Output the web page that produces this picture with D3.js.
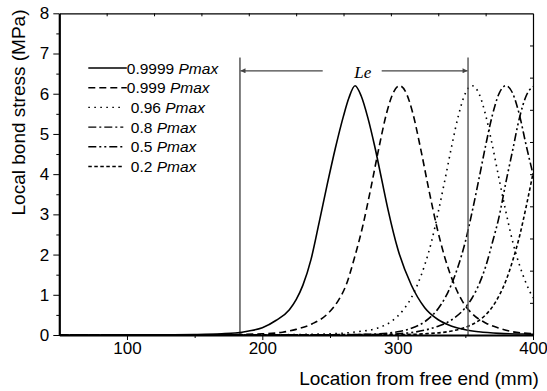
<!DOCTYPE html>
<html>
<head>
<meta charset="utf-8">
<script src="https://cdn.jsdelivr.net/npm/d3@7/dist/d3.min.js"></script>
<style>
  body { margin: 0; background: #fff; }
  svg { display: block; font-family: Arial, 'Liberation Sans', sans-serif; }
</style>
</head>
<body>
<div class="bond-chart"></div>
<script>
// tick labels
const xTicks = [100, 200, 300, 400];
const xMinor = [150, 250, 350];
const yTicks = [0, 1, 2, 3, 4, 5, 6, 7, 8];
const yMinor = [0.5, 1.5, 2.5, 3.5, 4.5, 5.5, 6.5, 7.5];

// series labels (fraction of Pmax)
const labels = ['0.9999', '0.999', '0.96', '0.8', '0.5', '0.2'];

// 0.9999 Pmax
const s1x = [50, 100, 130, 150, 170, 180, 190, 200, 210, 220, 225, 230, 236, 242, 248, 254, 260, 264, 268.5, 273, 278, 283, 288, 293, 300, 310, 320, 330, 340, 350, 360, 375, 390, 400];
const s1y = [0, 0.002, 0.006, 0.012, 0.03, 0.05, 0.1, 0.18, 0.36, 0.63, 0.88, 1.24, 1.88, 2.8, 3.75, 4.65, 5.45, 5.9, 6.2, 5.95, 5.4, 4.7, 3.9, 3.1, 2.15, 1.25, 0.68, 0.38, 0.22, 0.13, 0.08, 0.04, 0.025, 0.02];
// 0.999 Pmax
const s2x = [50, 150, 200, 215, 225, 237, 248, 256, 262, 268, 274, 280, 286, 292, 297, 301.5, 306, 311, 317, 323, 329, 335, 342, 348, 356, 365, 375, 385, 400];
const s2y = [0, 0.004, 0.03, 0.07, 0.14, 0.28, 0.52, 0.85, 1.25, 1.91, 2.68, 3.62, 4.63, 5.54, 6.04, 6.2, 6.04, 5.54, 4.63, 3.62, 2.68, 1.91, 1.24, 0.83, 0.5, 0.3, 0.17, 0.08, 0.035];
// 0.96 Pmax
const s3x = [50, 200, 250, 270, 285, 295, 305, 310, 315, 320, 325, 330, 335, 340, 345, 350, 355, 360, 365, 370, 375, 380, 385, 390, 395, 400];
const s3y = [0, 0.004, 0.03, 0.08, 0.17, 0.33, 0.66, 0.92, 1.28, 1.74, 2.32, 3.06, 3.87, 4.71, 5.47, 6.01, 6.2, 6.01, 5.47, 4.71, 3.87, 3.06, 2.32, 1.74, 1.28, 0.92];
// 0.8 Pmax
const s4x = [50, 250, 280, 300, 310, 320, 330, 335, 340, 345, 350, 355, 360, 365, 370, 375, 380, 385, 390, 395, 400];
const s4y = [0, 0.005, 0.02, 0.08, 0.165, 0.33, 0.66, 0.92, 1.28, 1.74, 2.32, 3.06, 3.87, 4.71, 5.47, 6.01, 6.2, 6.01, 5.47, 4.71, 4.0];
// 0.5 Pmax
const s5x = [50, 280, 300, 320, 330, 340, 350, 355, 360, 365, 370, 375, 380, 385, 390, 395, 400];
const s5y = [0, 0.01, 0.03, 0.12, 0.22, 0.38, 0.68, 0.92, 1.25, 1.7, 2.3, 2.95, 3.8, 4.6, 5.4, 5.95, 6.18];
// 0.2 Pmax
const s6x = [50, 300, 320, 340, 350, 360, 365, 370, 375, 380, 385, 390, 395, 400];
const s6y = [0, 0.01, 0.03, 0.1, 0.19, 0.36, 0.5, 0.7, 0.98, 1.35, 1.85, 2.45, 3.2, 4.02];

// Le annotation (mm, MPa)
const leBounds = [183.5, 352];
const leTop = 6.9;
const leArrow = 6.57;

const seriesX = [s1x, s2x, s3x, s4x, s5x, s6x];
const seriesY = [s1y, s2y, s3y, s4y, s5y, s6y];
const dashes = ['none', '7,4', '1.6,4.4', '8,3,2,3', '8,3,2,3,2,3', '3.5,2.5'];

const W = 547, H = 391;
const x = d3.scaleLinear().domain([50, 400]).range([59.3, 533]);
const y = d3.scaleLinear().domain([0, 8]).range([335, 13.3]);
// opposite axes carry their own 0-10 tick scale
const xTop = d3.scaleLinear().domain([0, 10]).range(x.range());
const yRight = d3.scaleLinear().domain([0, 10]).range(y.range());

const svg = d3.select('.bond-chart')
  .append('svg')
  .attr('width', W)
  .attr('height', H);

const data = seriesX.map((xs, i) => xs.map((v, j) => ({ x: v, y: seriesY[i][j] })));

const line = d3.line()
  .x(d => x(d.x))
  .y(d => y(d.y))
  .curve(d3.curveMonotoneX);

svg.append('g')
  .selectAll('path')
  .data(data)
  .enter()
  .append('path')
  .attr('fill', 'none')
  .attr('stroke', '#000')
  .attr('stroke-width', 1.6)
  .attr('stroke-dasharray', (d, i) => dashes[i])
  .attr('d', line);

// Le markers
svg.selectAll('.le-line')
  .data(leBounds)
  .enter()
  .append('line')
  .attr('class', 'le-line')
  .attr('x1', d => x(d))
  .attr('x2', d => x(d))
  .attr('y1', y(leTop))
  .attr('y2', y(0))
  .attr('stroke', (d, i) => (i ? '#555' : '#000'))
  .attr('stroke-width', (d, i) => (i ? 1.4 : 1));

const defs = svg.append('defs');
defs.append('marker')
  .attr('id', 'arr')
  .attr('viewBox', '0 0 10 10')
  .attr('refX', 10)
  .attr('refY', 5)
  .attr('markerWidth', 7)
  .attr('markerHeight', 5)
  .attr('markerUnits', 'userSpaceOnUse')
  .attr('orient', 'auto')
  .append('path')
  .attr('d', 'M0,0L10,5L0,10z')
  .attr('fill', '#444');

const leMid = 362.7;
svg.append('line')
  .attr('x1', leMid - 40)
  .attr('x2', x(leBounds[0]) + 0.5)
  .attr('y1', y(leArrow))
  .attr('y2', y(leArrow))
  .attr('stroke', '#444')
  .attr('stroke-width', 1.2)
  .attr('marker-end', 'url(#arr)');
svg.append('line')
  .attr('x1', leMid + 19)
  .attr('x2', x(leBounds[1]) - 0.5)
  .attr('y1', y(leArrow))
  .attr('y2', y(leArrow))
  .attr('stroke', '#444')
  .attr('stroke-width', 1.2)
  .attr('marker-end', 'url(#arr)');
svg.append('text')
  .attr('x', leMid)
  .attr('y', y(leArrow) + 7.5)
  .attr('text-anchor', 'middle')
  .attr('font-family', "'Liberation Serif', 'Times New Roman', serif")
  .attr('font-style', 'italic')
  .attr('font-size', 17)
  .text('Le');

// axes
const axisStyle = (g, w) => {
  g.select('.domain').attr('stroke', '#000').attr('stroke-width', w);
  g.selectAll('.tick line').attr('stroke', '#000').attr('stroke-width', 1);
  g.selectAll('text').attr('fill', '#000').attr('font-size', 17).attr('font-family', 'Arial, Liberation Sans, sans-serif');
};

svg.append('g')
  .attr('transform', `translate(0, ${y(0)})`)
  .call(d3.axisBottom(x).tickValues(xMinor).tickSize(3).tickSizeOuter(0).tickFormat(''))
  .call(g => g.select('.domain').remove())
  .call(g => g.selectAll('.tick line').attr('stroke', '#000'));
svg.append('g')
  .attr('transform', `translate(${x(50)}, 0)`)
  .call(d3.axisLeft(y).tickValues(yMinor).tickSize(3).tickSizeOuter(0).tickFormat(''))
  .call(g => g.select('.domain').remove())
  .call(g => g.selectAll('.tick line').attr('stroke', '#000'));

svg.append('g')
  .attr('transform', `translate(0, ${y(8)})`)
  .call(d3.axisBottom(xTop).tickValues(d3.range(1, 10)).tickSize(3).tickSizeOuter(0).tickFormat(''))
  .call(g => axisStyle(g, 1.2));
svg.append('g')
  .attr('transform', `translate(${x(400)}, 0)`)
  .call(d3.axisLeft(yRight).tickValues(d3.range(1, 10)).tickSize(3).tickSizeOuter(0).tickFormat(''))
  .call(g => axisStyle(g, 1.2));

svg.append('g')
  .attr('transform', `translate(0, ${y(0)})`)
  .call(d3.axisBottom(x).tickValues(xTicks).tickSize(5).tickPadding(2).tickSizeOuter(0))
  .call(g => axisStyle(g, 2.2));
svg.append('g')
  .attr('transform', `translate(${x(50)}, 0)`)
  .call(d3.axisLeft(y).tickValues(yTicks).tickSize(6).tickPadding(4).tickSizeOuter(0))
  .call(g => axisStyle(g, 2.2));

svg.append('text')
  .attr('x', 419)
  .attr('y', 385)
  .attr('text-anchor', 'middle')
  .attr('font-size', 19)
  .text('Location from free end (mm)');
svg.append('text')
  .attr('transform', 'translate(25, 112.5) rotate(-90)')
  .attr('text-anchor', 'middle')
  .attr('font-size', 19)
  .text('Local bond stress (MPa)');

// legend
const legend = svg.append('g')
  .selectAll('g')
  .data(labels)
  .enter()
  .append('g')
  .attr('transform', (d, i) => `translate(88.3, ${68 + i * 19.7})`);
legend.append('line')
  .attr('x1', 0)
  .attr('x2', (d, i) => (i < 2 ? 38.5 : 35))
  .attr('stroke', '#000')
  .attr('stroke-width', 1.4)
  .attr('stroke-dasharray', (d, i) => dashes[i]);
const lt = legend.append('text')
  .attr('x', (d, i) => (i < 2 ? 38.5 : 42.5))
  .attr('y', 5.5)
  .attr('font-size', 15.5);
lt.append('tspan').text(d => d + ' ');
lt.append('tspan').attr('font-style', 'italic').text('Pmax');
</script>
</body>
</html>
